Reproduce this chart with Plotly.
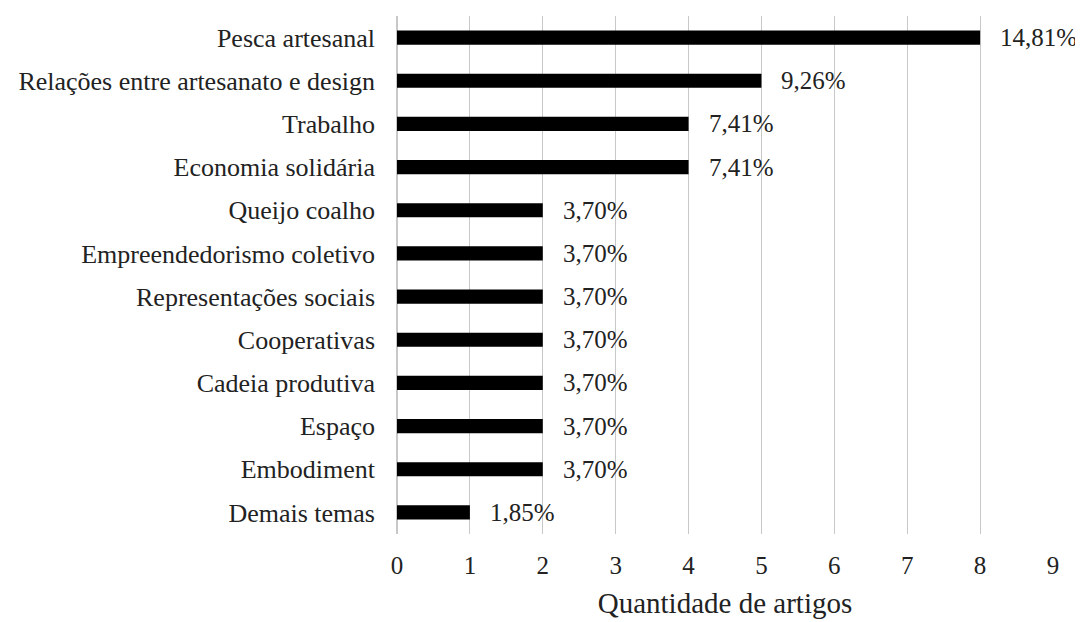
import plotly.graph_objects as go

categories = ["Pesca artesanal", "Relações entre artesanato e design", "Trabalho",
              "Economia solidária", "Queijo coalho", "Empreendedorismo coletivo",
              "Representações sociais", "Cooperativas", "Cadeia produtiva", "Espaço",
              "Embodiment", "Demais temas"]
counts = [8, 5, 4, 4, 2, 2, 2, 2, 2, 2, 2, 1]
percent_labels = ["14,81%", "9,26%", "7,41%", "7,41%", "3,70%", "3,70%", "3,70%",
                  "3,70%", "3,70%", "3,70%", "3,70%", "1,85%"]
x_ticks = list(range(0, 10))

FONT = "Liberation Serif, Times New Roman, serif"
TXT = "#222"

fig = go.Figure(go.Bar(
    x=counts, y=categories, orientation="h",
    marker=dict(color="black", line=dict(width=0)),
    width=0.33,
))

annotations = [
    dict(x=c, y=cat, text=t, xanchor="left", yanchor="middle", xshift=18,
         showarrow=False, font=dict(family=FONT, size=25, color=TXT))
    for c, cat, t in zip(counts, categories, percent_labels)
]

fig.update_layout(
    width=1083, height=622,
    margin=dict(l=389, r=38, t=8, b=96),
    paper_bgcolor="white", plot_bgcolor="white",
    showlegend=False,
    font=dict(family=FONT, size=26, color=TXT),
    annotations=annotations,
    xaxis=dict(range=[0, 9], tickvals=x_ticks, showgrid=True, gridcolor="#c8c8c8",
               gridwidth=1, zeroline=True, zerolinecolor="#c8c8c8", showline=False,
               ticks="", tickfont=dict(family=FONT, size=25, color=TXT), ticklabelstandoff=14,
               title=dict(text="Quantidade de artigos", font=dict(family=FONT, size=29, color=TXT), standoff=14),
               automargin=False),
    yaxis=dict(autorange="reversed", showgrid=False, ticks="", showline=False,
               tickfont=dict(family=FONT, size=26, color=TXT), ticklabelstandoff=21,
               automargin=False),
)

fig.write_html("out.html")
